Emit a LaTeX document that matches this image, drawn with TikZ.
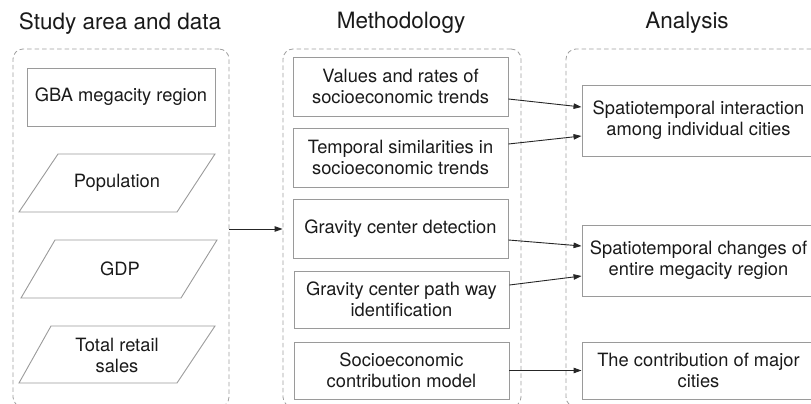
\documentclass[tikz,border=0pt]{standalone}
\usepackage{fontspec}
\setmainfont{TeX Gyre Heros}
\usetikzlibrary{arrows.meta}
\definecolor{boxgray}{HTML}{9A9A9A}
\definecolor{dashgray}{HTML}{A0A0A0}
\definecolor{txt}{HTML}{1A1A1A}
\begin{document}
\begin{tikzpicture}[x=1pt,y=-1pt,
  title/.style={font=\fontsize{22.5}{26}\selectfont, text=txt, inner sep=0pt},
  pbox/.style={draw=boxgray, line width=0.9pt},
  boxnode/.style={draw=boxgray, line width=0.9pt, align=center, text=txt,
    font=\fontsize{18.3}{21}\selectfont, inner sep=0pt},
  ptext/.style={align=center, text=txt, font=\fontsize{18.3}{21}\selectfont, inner sep=0pt},
  dashbox/.style={draw=dashgray, line width=0.8pt, dash pattern=on 4.5pt off 3pt,
    rounded corners=10pt, inner sep=0pt},
  conn/.style={draw=black!85, line width=0.9pt, -{Triangle[length=8pt,width=5.5pt]}}
]
\useasboundingbox (0,0) rectangle (811,404);

% titles
\node[title] (T1) at (120,24) {Study area and data};
\node[title] (T2) at (401,23) {Methodology};
\node[title] (T3) at (687,23) {Analysis};

% dashed group boxes
\node[dashbox, minimum width=216pt, minimum height=358pt] (D1) at (121,228) {};
\node[dashbox, minimum width=238pt, minimum height=358pt] (D2) at (402,228) {};
\node[dashbox, minimum width=270pt, minimum height=358pt] (D3) at (701,228) {};

% left column
\node[boxnode, minimum width=188pt, minimum height=58pt] (GBA) at (121,97) {GBA megacity region};
\draw[pbox] (58,154) -- (215,154) -- (177,212) -- (19,212) -- cycle;
\node[ptext] (P1) at (117,183) {Population};
\draw[pbox] (55,240) -- (217,240) -- (181,298) -- (21,298) -- cycle;
\node[ptext] (P2) at (120,269) {GDP};
\draw[pbox] (51,326) -- (215,326) -- (177,383) -- (19,383) -- cycle;
\node[ptext] (P3) at (117,355) {Total retail\\sales};

% middle column
\node[boxnode, minimum width=215pt, minimum height=59pt] (M1) at (400.5,86.5) {Values and rates of\\socioeconomic trends};
\node[boxnode, minimum width=215pt, minimum height=59pt] (M2) at (400.5,157.5) {Temporal similarities in\\socioeconomic trends};
\node[boxnode, minimum width=215pt, minimum height=59pt] (M3) at (400.5,228.5) {Gravity center detection};
\node[boxnode, minimum width=215pt, minimum height=57pt] (M4) at (401.5,299.5) {Gravity center path way\\identification};
\node[boxnode, minimum width=215pt, minimum height=57pt] (M5) at (401.5,370.5) {Socioeconomic\\contribution model};

% right column
\node[boxnode, minimum width=233pt, minimum height=71pt] (R1) at (698.5,120.5) {Spatiotemporal interaction\\among individual cities};
\node[boxnode, minimum width=233pt, minimum height=71pt] (R2) at (698.5,260.5) {Spatiotemporal changes of\\entire megacity region};
\node[boxnode, minimum width=233pt, minimum height=57pt] (R3) at (698.5,370.5) {The contribution of major\\cities};

% connectors
\draw[conn] ([yshift=-1pt]D1.east) -- ([yshift=-1pt]D2.west);
\draw[conn] ([yshift=-12.5pt]M1.east) -- ([yshift=13.5pt]R1.west);
\draw[conn] ([yshift=13.5pt]M2.east) -- ([yshift=-15.5pt]R1.west);
\draw[conn] ([yshift=-11.5pt]M3.east) -- ([yshift=14.5pt]R2.west);
\draw[conn] ([yshift=14.5pt]M4.east) -- ([yshift=-15.5pt]R2.west);
\draw[conn] (M5.east) -- (R3.west);
\end{tikzpicture}
\end{document}
